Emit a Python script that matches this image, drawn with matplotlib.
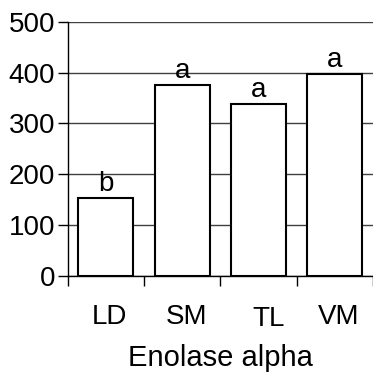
import matplotlib
matplotlib.use("Agg")
import matplotlib.pyplot as plt
import matplotlib.transforms as mtransforms

categories = ["LD", "SM", "TL", "VM"]
values = [153, 375, 339, 398]
letters = ["b", "a", "a", "a"]
y_ticks = [0, 100, 200, 300, 400, 500]

plt.rcParams["font.family"] = ["Liberation Sans", "DejaVu Sans"]

fig = plt.figure(figsize=(3.73, 3.74), dpi=100)
ax = fig.add_axes([0.1815, 0.262, 0.8185, 0.68])

x = list(range(len(categories)))
ax.set_axisbelow(True)
ax.yaxis.grid(True, color="#404040", linewidth=1.0)
bars = ax.bar(x, values, width=0.72, color="white", edgecolor="black", linewidth=1.5, zorder=3)

for xi, v, lab in zip(x, values, letters):
    ax.text(xi, v + 2, lab, ha="center", va="bottom", fontsize=20)

ax.set_xlim(-0.5, len(categories) - 0.5)
ax.set_ylim(0, 500)
ax.set_yticks(y_ticks)
ax.tick_params(axis="y", labelsize=20, length=7, direction="out", width=1, pad=2)

# category ticks sit between bars
ax.set_xticks([i - 0.5 for i in range(len(categories) + 1)])
ax.set_xticklabels([])
ax.tick_params(axis="x", length=7, direction="out", width=1)
ax.set_xticks(x, minor=True)
ax.set_xticklabels(categories, minor=True)
ax.tick_params(axis="x", which="minor", length=0, labelsize=20, pad=20)

shifts = [(4, 0), (4, 0), (10, -2), (4, 0)]
for lab, (dx, dy) in zip(ax.get_xticklabels(minor=True), shifts):
    lab.set_transform(lab.get_transform() + mtransforms.ScaledTranslation(dx / 100, dy / 100, fig.dpi_scale_trans))

ax.set_xlabel("Enolase alpha", fontsize=21, labelpad=9)

for s in ["top", "right"]:
    ax.spines[s].set_visible(False)
ax.spines["left"].set_linewidth(1)
ax.spines["bottom"].set_linewidth(1)

fig.savefig("out.png", dpi=100)
